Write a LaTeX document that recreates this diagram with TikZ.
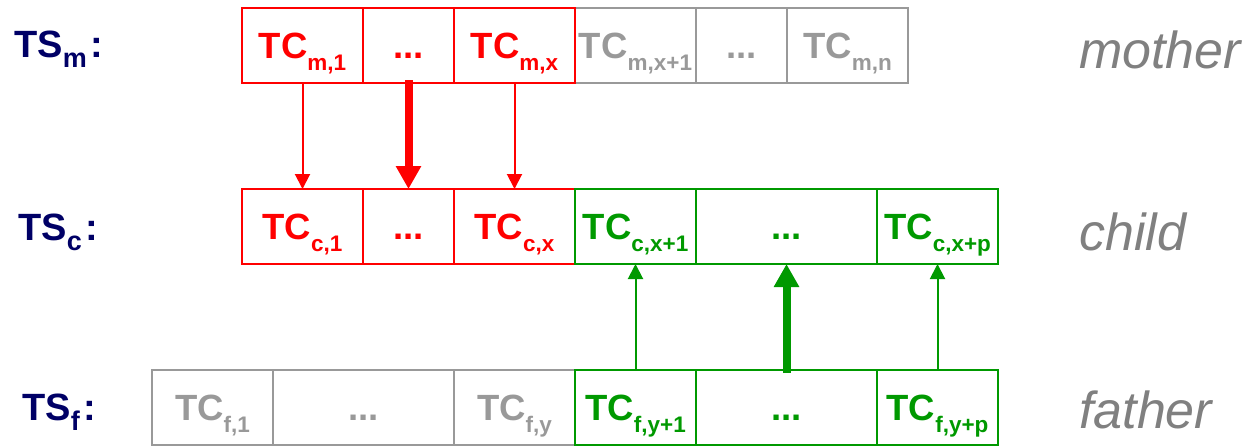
\documentclass[tikz,border=0pt]{standalone}
\usepackage{fontspec}
\setmainfont{Liberation Sans}
\usetikzlibrary{arrows.meta}

\definecolor{tcred}{RGB}{255,0,0}
\definecolor{tcgreen}{RGB}{0,153,0}
\definecolor{tcgray}{RGB}{153,153,153}
\definecolor{tsnavy}{RGB}{0,0,102}
\definecolor{rolegray}{RGB}{128,128,128}

% test case label: big "TC" with a lowered index
\newcommand{\tcname}[1]{TC\smash{\raisebox{-12pt}{\fontsize{22.5}{22.5}\selectfont #1}}}
% test suite label: "TS" with a lowered index and a colon
\newcommand{\tsname}[1]{TS\raisebox{-10pt}{\fontsize{27}{27}\selectfont #1}\hspace{4pt}:}

\tikzset{
  cell/.style={draw, rectangle, line width=2.7pt, inner sep=0pt, outer sep=0pt,
    minimum height=75pt, text height=26pt, text depth=0pt,
    font=\fontsize{36.5}{36.5}\selectfont\bfseries},
  narrow/.style={minimum width=121pt},
  mid/.style={minimum width=91pt},
  wide/.style={minimum width=181pt},
  suite/.style={anchor=base west, inner sep=0pt, text=tsnavy,
    font=\fontsize{38}{38}\selectfont\bfseries},
  role/.style={anchor=base west, inner sep=0pt, text=rolegray,
    font=\fontsize{52}{52}\selectfont\itshape},
  thinarrow/.style={line width=2pt, -{Triangle[width=15pt,length=15pt]}},
  thickarrow/.style={line width=8pt, -{Triangle[width=24pt,length=23pt]}}
}

\begin{document}
\begin{tikzpicture}[x=1pt,y=-1pt]
\useasboundingbox (0,0) rectangle (1253,445);

% suite labels on the left
\node[suite] (tsm) at (14,57) {\tsname{m}};
\node[suite] (tsc) at (18,240) {\tsname{c}};
\node[suite] (tsf) at (22,420) {\tsname{f}};

% role labels on the right
\node[role] (rm) at (1079,68) {mother};
\node[role] (rc) at (1079,250) {child};
\node[role] (rf) at (1079,428) {father};

% mother suite
\node[cell, narrow, tcgray] (m4) at (635.5,45.5) {\tcname{m,x+1}};
\node[cell, mid, tcgray]    (m5) at (741.5,45.5) {...};
\node[cell, narrow, tcgray] (m6) at (847.5,45.5) {\tcname{m,n}};
\node[cell, narrow, tcred]  (m1) at (302.5,45.5) {\tcname{m,1}};
\node[cell, mid, tcred]     (m2) at (408.5,45.5) {...};
\node[cell, narrow, tcred]  (m3) at (514.5,45.5) {\tcname{m,x}};

% child suite
\node[cell, narrow, tcred]   (c1) at (302.5,226.5) {\tcname{c,1}};
\node[cell, mid, tcred]      (c2) at (408.5,226.5) {...};
\node[cell, narrow, tcred]   (c3) at (514.5,226.5) {\tcname{c,x}};
\node[cell, narrow, tcgreen] (c4) at (635.5,226.5) {\tcname{c,x+1}};
\node[cell, wide, tcgreen]   (c5) at (786.5,226.5) {...};
\node[cell, narrow, tcgreen] (c6) at (937.5,226.5) {\tcname{c,x+p}};

% father suite
\node[cell, narrow, tcgray]  (f1) at (212.5,407.5) {\tcname{f,1}};
\node[cell, wide, tcgray]    (f2) at (363.5,407.5) {...};
\node[cell, narrow, tcgray]  (f3) at (514.5,407.5) {\tcname{f,y}};
\node[cell, narrow, tcgreen] (f4) at (635.5,407.5) {\tcname{f,y+1}};
\node[cell, wide, tcgreen]   (f5) at (786.5,407.5) {...};
\node[cell, narrow, tcgreen] (f6) at (937.5,407.5) {\tcname{f,y+p}};

% inheritance from the mother
\draw[thinarrow, tcred] (m1.south) -- (c1.north);
\draw[thickarrow, tcred] ([yshift=3pt]m2.south) -- (c2.north);
\draw[thinarrow, tcred] (m3.south) -- (c3.north);

% inheritance from the father
\draw[thinarrow, tcgreen] (f4.north) -- (c4.south);
\draw[thickarrow, tcgreen] ([yshift=-3pt]f5.north) -- (c5.south);
\draw[thinarrow, tcgreen] (f6.north) -- (c6.south);
\end{tikzpicture}
\end{document}
